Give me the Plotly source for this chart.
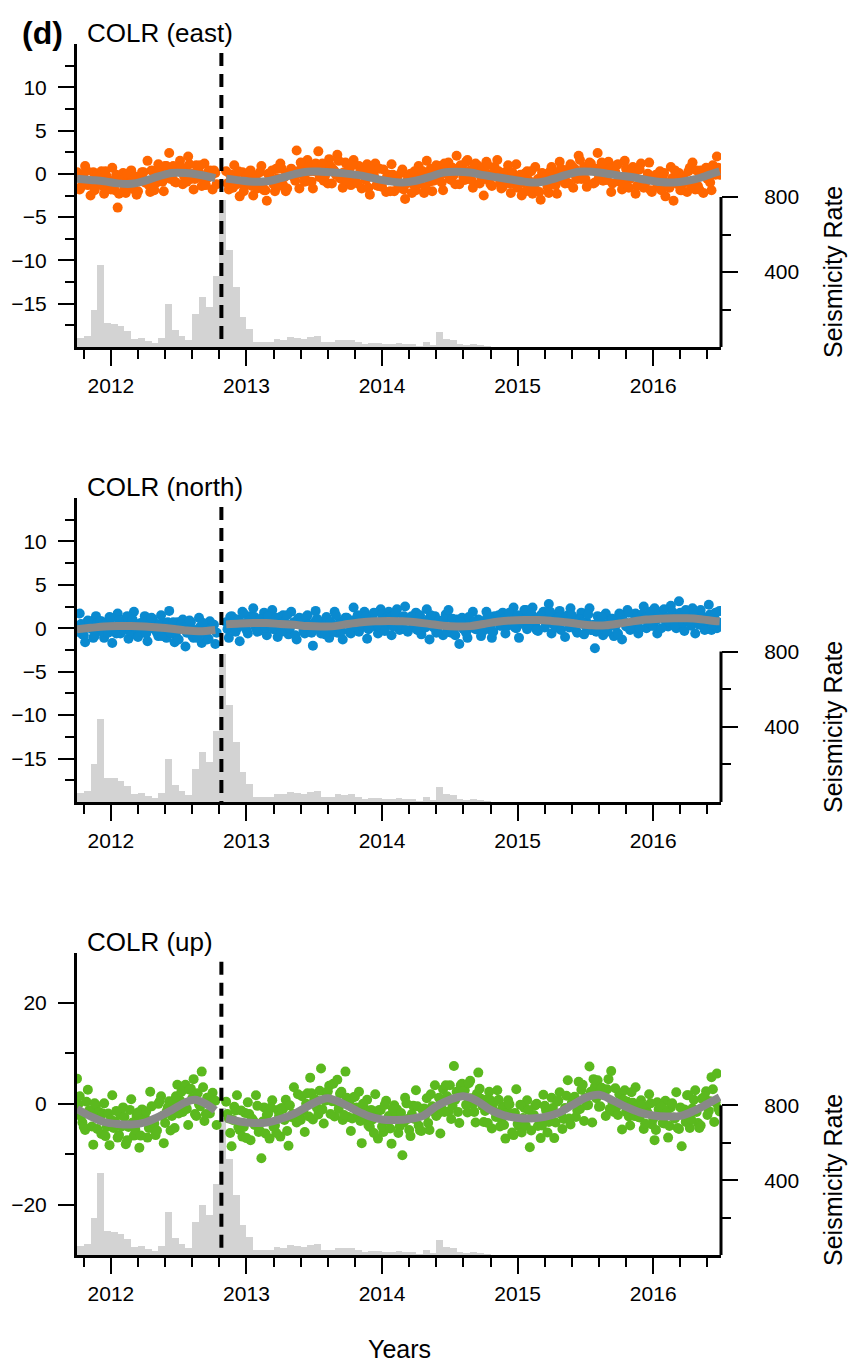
import numpy as np
import plotly.graph_objects as go

# ------------------------------------------------------------------ data
STEP = 0.02            # GPS sampling interval (years) of each dot series
PRE_START = 2011.75    # first epoch before the gap
POST_START = 2012.85   # first epoch after the gap
OFFSET_B = 0.01        # second (interleaved) set of daily solutions
QUAKE_T = 2012.815     # dashed event line

east_pre = [0.2, -1.8, -0.3, 0.9, -1.3, -2.5, 0.2, -0.7, -1.2, 0.3,
            -2.3, -0.3, -1.1, 0.7, -1.9, -3.9, -0.7, 0.1, -2.2, -0.9,
            0.4, -1.8, -2.4, -0.4, 0.2, -1.0, 1.5, -2.1, 0.3, -1.1,
            1.1, -0.1, -2.0, 0.9, 2.4, -0.4, -0.9, 0.7, 1.5, -1.2,
            0.3, 2.0, -0.6, -1.8, 1.0, 0.2, -1.4, 1.2, -0.5, 0.4,
            -1.8, 0.1]
east_pre_b = [-0.4, -1.5, 0.0, 0.4, -1.0, -0.9, -1.9, 0.0, -0.3, -1.4,
              0.3, -1.3, -1.8, -0.8, -0.1, -2.3, -0.7, -1.6, 0.0, -1.1,
              -1.6, -0.3, -2.0, -0.7, 0.2, -0.8, -1.3, 0.4, -1.9, 0.1,
              0.3, -0.9, 0.9, -0.2, -0.6, 0.9, -1.0, 0.3, 0.8, -0.3,
              -0.9, 1.1, 0.0, -0.6, 0.5, 1.0, -0.6, -1.3, 0.3, -0.2,
              0.4, -1.2]
east_post = [0.3, -1.8, -0.1, 1.0, -1.2, -2.6, 0.2, -0.5, -1.2, 0.4,
             -2.5, -0.2, -1.0, 0.9, -1.9, -3.1, -0.3, 0.4, -2.0, -0.5,
             1.2, -1.3, -2.0, 0.1, 0.6, -0.4, 2.7, -1.7, 0.7, -0.9,
             1.6, 0.3, -1.7, 1.2, 2.6, -0.3, -0.8, 0.9, 1.7, -1.1,
             0.3, 2.2, -0.5, -1.6, 1.3, 0.5, -1.3, 1.6, -0.3, 0.9,
             -1.7, 0.4, 1.1, -2.4, -0.2, 1.2, -1.4, -0.9, 0.5, -2.1,
             -0.1, 1.1, -2.0, -0.5, -1.6, 0.5, -2.9, -0.6, 0.0, -1.2,
             -1.9, 0.9, -0.2, -2.2, 1.5, -0.9, -2.0, 0.5, -0.2, 0.9,
             -1.9, 0.6, 1.3, -0.7, -0.1, 2.1, -1.2, 0.9, -0.7, 1.6,
             0.4, -1.6, 1.2, 0.9, -0.3, -2.5, 1.4, -0.1, -1.4, 0.8,
             1.6, -1.1, -1.5, 0.2, 1.0, -2.2, -0.4, 1.1, -1.0, -2.5,
             0.0, 0.3, -1.7, -2.3, 0.8, -0.6, -3.0, 0.0, -0.5, -2.2,
             0.8, -0.9, -2.3, 1.4, -0.5, -1.1, 0.5, 1.1, -1.6, -0.3,
             2.1, -0.6, 0.8, -1.5, 1.3, 0.5, -1.0, 2.4, -0.3, -0.8,
             0.8, 1.4, -2.1, 0.2, 1.0, -0.9, -1.8, 1.5, 0.3, -0.6,
             0.8, -2.3, 0.5, 1.2, -1.6, -0.8, 1.3, -2.1, -0.3, -1.5,
             0.3, -0.2, -2.6, -1.4, 0.8, -3.1, -0.4, 0.1, -1.9, -1.0,
             -2.1, 0.7, 1.3, -1.8, -1.4, 0.4, -2.2, 0.7, -0.1, -1.9,
             0.8, 2.0, -0.1]
east_post_b = [-1.1, -0.1, -1.6, -0.5, 0.3, -1.1, -2.0, -0.3, 0.0, -1.4,
               -0.6, -1.7, 0.2, -1.1, -1.9, 0.0, -0.6, -1.2, 0.6, -1.4,
               0.6, -0.4, -1.7, 0.1, 0.3, -0.8, 0.3, 1.3, -0.2, -0.7,
               0.8, -0.9, 0.3, 1.1, -0.4, 1.2, -0.2, -1.1, 0.9, 0.5,
               -0.1, 1.5, -0.6, 0.2, -0.8, 0.5, 1.0, -0.6, -1.1, 0.3,
               0.3, -0.7, -1.6, 0.5, -0.2, -1.3, 0.6, -1.5, -0.7, -0.2,
               -2.0, -0.1, -0.6, -1.3, 0.1, -1.8, -1.1, -0.3, -2.2, 0.3,
               -0.5, -1.1, 0.3, -1.6, -0.2, 0.6, -0.8, 1.0, -0.4, -1.0,
               1.2, 0.0, -0.6, 0.7, -1.2, 0.5, 1.0, -0.4, 1.4, 0.1,
               -0.7, 0.9, 0.2, -1.1, 0.6, -0.6, 1.0, -1.2, 0.1, -0.3,
               0.3, -1.7, 0.0, -0.4, -1.1, 0.2, -1.2, -1.6, -0.1, -1.0,
               -2.0, -0.7, 0.3, -1.5, -1.0, -2.1, 0.1, -0.4, -1.5, 0.3,
               -0.2, -1.3, 0.2, 0.6, -0.8, -0.1, -1.1, 0.9, 0.6, -0.6,
               1.6, -0.1, -0.6, 0.5, 1.2, -1.1, 0.6, -0.4, 1.3, 0.2,
               -0.7, 0.6, -1.1, 0.2, 1.1, -0.5, -1.0, 0.6, -1.6, 0.3,
               -0.2, -1.4, 0.5, -0.7, -1.1, 0.0, -1.9, -0.6, -0.1, -1.2,
               -1.9, 0.1, -1.0, -1.6, -0.5, 0.4, -1.2, -1.9, -0.3, -0.8,
               0.3, -1.3, -0.8, 0.4, -1.8, 0.1, 0.4, -0.6, -1.0, 1.0,
               -0.1, 0.7]

north_pre = [0.1, 1.7, -0.7, -1.6, 0.9, 0.4, -1.1, 1.4, -0.3, 0.8,
             -1.1, 0.7, 1.3, -1.7, 0.2, 1.7, -0.6, -0.1, 1.1, -1.2,
             0.9, 1.9, -0.8, 0.5, -0.5, 1.4, -1.5, 0.5, 1.0, 0.0,
             -0.9, 1.5, 0.6, -1.1, 2.0, -0.6, -1.6, 0.7, 0.0, 1.0,
             -2.1, 0.1, 0.7, -1.1, -0.6, 1.2, -1.7, 0.2, -1.3, 0.8,
             0.0, -1.8]
north_pre_b = [-0.4, 0.5, -0.8, 0.1, 0.8, -0.1, -0.9, 0.6, 0.8, -0.4,
               0.5, -0.5, 1.2, 0.1, -0.6, 0.9, 0.3, -0.2, 1.4, -0.3,
               1.0, 0.1, -1.0, 0.6, 0.7, -0.6, 0.3, 1.2, -0.1, -0.5,
               0.5, -0.9, 0.0, 0.7, -0.5, 0.7, -0.5, -1.3, 0.5, 0.1,
               -0.5, 0.9, -0.9, -0.2, -1.1, 0.2, 0.6, -0.7, -1.2, 0.0,
               0.4, -0.5]
north_post = [0.7, -1.1, 1.4, 1.1, 0.0, -1.5, 1.9, 0.6, -0.6, 1.4,
              2.3, 0.0, -0.3, 1.1, 1.8, -0.8, 0.8, 2.1, 0.3, -1.0,
              1.3, 1.5, -0.2, -0.7, 1.9, 0.7, -1.3, 1.2, 0.8, -0.6,
              1.5, 0.0, -2.0, 2.0, 0.3, -0.6, 0.8, 1.3, -1.1, 0.0,
              1.9, -0.5, 0.8, -1.3, 1.2, 0.8, -0.6, 2.4, 0.0, -0.4,
              1.4, 1.9, -1.2, 0.9, 1.5, 0.2, -0.6, 2.2, 1.2, 0.5,
              1.9, -0.8, 1.6, 2.2, -0.2, 0.7, 2.5, -0.4, 1.1, 0.1,
              1.8, 1.3, -0.7, 0.3, 2.2, -1.3, 1.0, 1.4, -0.3, 0.5,
              -0.8, 1.6, 2.1, -0.5, -0.2, 1.0, -1.8, 1.2, 0.5, -1.1,
              0.9, 1.9, -0.1, 1.0, -0.9, 0.8, 1.9, -0.1, -1.1, 1.4,
              0.9, 0.3, 1.8, -0.6, 1.3, 0.8, 2.4, 0.0, -1.1, 1.3,
              2.1, -0.1, 1.2, 2.4, 0.3, -0.3, 1.5, 1.9, 0.6, 2.8,
              -0.6, 1.5, 0.1, 2.0, 0.9, -1.0, 1.5, 2.3, 0.2, -0.2,
              1.1, 1.8, -0.7, 0.7, 2.3, -0.2, -2.3, 1.4, 0.8, -0.8,
              1.7, 0.1, 1.1, -0.9, 0.9, 1.7, -1.3, 0.6, 2.1, -0.2,
              0.5, 1.7, -0.6, 1.5, 2.5, 0.0, 1.3, 0.3, 2.3, -0.6,
              1.4, 2.0, 0.9, 0.2, 2.6, 1.7, 0.0, 3.1, 0.6, -0.3,
              1.9, 1.2, 2.3, -0.6, 1.6, 2.1, 0.3, 0.8, 2.7, -0.2,
              1.4, 0.0, 2.0]
north_post_b = [-0.1, 1.3, 0.7, -0.4, 1.0, 0.3, 1.7, -0.2, 0.9, 0.6,
                1.3, -0.4, 1.0, 0.7, 0.1, 1.4, 0.2, -0.1, 1.2, 0.4,
                -0.4, 0.7, 1.5, 0.0, 0.5, -0.8, 1.1, 0.7, -0.3, 1.3,
                0.4, -0.5, 0.7, 1.1, -0.1, 0.1, -0.7, 0.9, 0.7, -0.3,
                1.5, 0.1, -0.3, 0.6, 1.2, -0.4, 0.9, 0.2, 1.5, 0.6,
                0.2, 1.4, -0.1, 1.0, 1.8, 0.7, 0.2, 1.6, -0.3, 1.3,
                1.2, 0.2, 1.7, 0.7, 0.4, 1.4, -0.2, 0.9, 1.4, 0.4,
                -0.2, 1.5, 0.6, 0.1, 1.0, 1.5, 0.1, -0.5, 0.9, 0.5,
                1.0, -0.4, 0.1, 1.1, -0.8, 0.5, 0.7, -0.1, -0.5, 1.3,
                0.1, 0.8, 0.0, 0.9, -0.4, 0.8, 1.5, 0.4, -0.4, 1.1,
                1.5, 0.3, 1.1, 0.2, 1.8, 0.8, 0.1, 1.5, 1.0, 0.5,
                2.1, 0.4, 1.7, 0.9, -0.2, 1.2, 1.4, 0.1, 1.1, 1.9,
                0.5, 0.1, 1.2, -0.2, 0.8, 1.3, 0.1, 1.5, 0.3, -0.5,
                1.0, 0.7, 0.3, 1.6, -0.2, 0.4, -0.4, 0.9, 1.3, -0.1,
                -0.4, 0.8, 1.1, 0.2, -0.6, 1.5, 0.9, 0.2, 1.8, 0.0,
                0.9, 1.3, 0.0, 1.6, 1.2, 0.7, 1.9, 0.3, 0.9, 1.6,
                0.0, 2.2, 1.2, 0.7, 1.9, 0.3, 1.5, 1.8, 0.6, 2.1,
                0.8, 0.3, 2.0, 0.9, 0.4, 1.4, -0.2, 1.2, 1.6, 0.4,
                1.8, 0.7]

up_pre = [5.0, 1.5, -3.7, -5.2, 2.8, -1.9, -8.1, -0.3, -1.6, -6.0,
          0.1, -4.6, -8.2, 1.7, -3.5, -6.7, -2.2, -0.7, -8.0, -4.6,
          0.9, -6.3, -2.4, -8.7, -1.1, -2.5, -6.7, 2.4, -4.9, -6.2,
          0.0, 1.5, -7.8, -1.6, 0.5, -2.4, -4.8, 3.8, 0.7, -1.6,
          3.8, -4.2, 3.0, 4.9, -2.4, -0.1, 6.4, -3.4, 1.2, -1.9,
          2.2, 0.6]
up_pre_b = [-0.1, -2.5, -4.6, 0.4, -1.3, -4.5, 0.1, -5.0, -3.1, -1.9,
            -6.4, -1.9, -3.1, -4.8, -1.4, -6.2, -4.5, -2.6, -7.2, -1.2,
            -3.7, -5.1, -1.7, -6.3, -2.9, -1.5, -4.8, -0.5, -3.9, -5.3,
            0.5, -2.4, -3.8, -0.7, -5.3, 0.3, 1.5, -1.9, 2.4, -0.7,
            -1.0, 2.8, 1.1, -2.0, 2.1, -0.5, 3.3, -2.0, 1.2, 0.2,
            0.6, -4.2]
up_post = [0.4, -2.9, -8.4, -0.6, 1.7, -5.2, -6.5, -1.8, 0.3, -7.2,
           -3.3, 1.7, -5.6, -10.8, -0.7, -2.2, -6.9, 0.7, -4.3, -1.2,
           -6.5, -1.0, 0.8, -8.3, -2.6, 3.3, -3.7, -2.4, 1.5, -5.6,
           2.1, 5.2, -3.1, 0.8, -2.1, 7.0, -3.9, 2.0, 3.6, 0.5,
           -2.5, 4.8, 2.0, -3.2, 6.4, -2.6, -5.4, 1.3, -0.7, 2.4,
           -7.8, -1.0, 0.8, -4.6, -3.1, 1.9, -6.9, -1.2, -5.6, 0.6,
           -2.4, -7.9, -0.3, -1.1, -4.5, -10.2, 1.2, -3.0, -6.4, -0.4,
           2.7, -4.3, -5.4, -0.9, 1.1, -5.2, -0.5, 3.7, -2.0, -5.9,
           2.9, 3.7, -1.5, -3.0, 7.5, 2.4, -3.8, 4.0, 2.7, -1.7,
           4.6, -0.1, -3.7, 6.2, 1.0, -3.6, 0.8, 2.4, -4.9, -1.5,
           2.7, -4.5, -0.6, -6.9, 0.7, -2.0, -6.2, 2.9, -4.4, -5.7,
           -0.8, 0.7, -8.6, -2.4, -0.3, -4.4, -6.8, 1.8, -1.3, -3.6,
           1.2, -6.8, 0.4, 2.3, -5.0, -0.8, 4.7, -4.1, 0.5, -2.6,
           4.4, 2.8, -3.4, -0.3, 7.4, -3.7, 3.4, 4.7, -0.5, 1.8,
           -2.4, 4.9, 6.5, -1.6, -0.6, 1.9, -5.1, 2.7, 0.4, -4.3,
           0.2, 3.3, -2.6, 0.7, -5.0, -1.3, 1.9, -4.1, -7.2, 0.3,
           -2.0, -3.8, 0.6, -6.7, -0.7, -2.7, 2.3, -5.0, -8.4, -1.1,
           1.7, -4.8, -0.9, 2.7, -3.8, -4.3, 1.2, 2.5, -1.4, 5.3,
           -3.6, 6.0, -1.5]
up_post_b = [-2.0, -5.8, -3.2, -1.3, -4.6, -1.3, -4.6, -6.8, -2.0, -2.9,
             -4.2, -0.4, -5.4, -3.5, -5.9, -1.9, -0.7, -4.6, -5.8, -2.4,
             -0.8, -3.2, -5.4, -0.3, -2.0, -2.7, 1.9, -3.2, -1.3, 0.0,
             -2.5, 2.1, 0.9, -0.8, 2.6, -1.1, 0.6, 2.5, -2.0, 4.0,
             0.4, -1.0, 2.4, -2.2, 1.2, 0.5, -2.9, 1.4, -1.9, -3.4,
             0.0, -2.9, -4.3, -1.2, -5.8, -2.4, -1.2, -4.5, -0.2, -3.3,
             -4.9, -1.0, -2.7, -5.8, -1.8, -3.7, 0.1, -5.2, -2.0, -3.0,
             -0.5, -5.3, -1.2, -2.2, -3.8, 1.9, -1.5, -2.4, 1.2, -1.0,
             -1.6, 1.5, 3.7, -0.4, 0.8, -1.6, 3.7, 2.5, -0.2, 4.1,
             1.1, -1.6, 2.0, 3.0, -0.4, -1.4, -3.8, 0.7, 0.0, -2.6,
             0.8, -3.0, -4.2, -1.8, -0.1, -5.7, -1.8, -4.0, -0.2, -2.8,
             -4.3, -1.2, -5.3, -2.2, 0.0, -3.1, -4.3, -0.4, -5.7, -1.2,
             -0.8, -3.7, 0.6, -2.0, -3.0, 1.6, -2.9, 0.2, 1.4, -1.3,
             -1.0, 3.8, 1.2, -0.2, 2.4, 4.9, 1.1, -0.6, 3.2, 2.0,
             2.9, -1.0, 0.2, 3.1, -2.2, 0.1, 0.8, -1.6, -2.5, 2.3,
             -2.4, -0.5, -2.7, -0.3, -3.9, -1.8, 0.1, -3.0, -5.2, -1.1,
             -0.6, -3.9, -1.8, -4.4, 0.1, -2.9, -4.8, -0.7, -2.2, -3.6,
             1.7, -3.1, 0.8, -1.6, -4.8, 1.0, 1.4, -2.2, 0.5, 2.9,
             0.3, -0.9]

# fitted (seasonal) model curves
line_pre_x = [2011.75, 2011.85, 2011.95, 2012.05, 2012.15, 2012.25,
              2012.35, 2012.45, 2012.55, 2012.65, 2012.77]
line_post_x = [2012.85, 2012.95, 2013.05, 2013.15, 2013.25, 2013.35, 2013.45,
               2013.55, 2013.65, 2013.75, 2013.85, 2013.95, 2014.05, 2014.15,
               2014.25, 2014.35, 2014.45, 2014.55, 2014.65, 2014.75, 2014.85,
               2014.95, 2015.05, 2015.15, 2015.25, 2015.35, 2015.45, 2015.55,
               2015.65, 2015.75, 2015.85, 2015.95, 2016.05, 2016.15, 2016.25,
               2016.35, 2016.45, 2016.49]
east_line_pre = [-0.55, -0.7, -0.85, -1.1, -1.15, -0.8, -0.3, 0.1, 0.1, -0.1, -0.5]
east_line_post = [-0.55, -0.75, -0.9, -0.85, -0.5, -0.05, 0.25, 0.25, 0.15, 0.0,
                  -0.2, -0.55, -0.85, -1.0, -0.8, -0.35, 0.15, 0.25, 0.15, -0.15,
                  -0.4, -0.65, -0.9, -1.0, -0.65, -0.15, 0.25, 0.25, 0.05, -0.2,
                  -0.4, -0.7, -0.95, -1.0, -0.8, -0.45, 0.1, 0.3]
north_line_pre = [-0.1, 0.05, 0.2, 0.25, 0.25, 0.2, 0.1, -0.05, -0.25, -0.35, -0.2]
north_line_post = [0.45, 0.55, 0.6, 0.6, 0.5, 0.4, 0.25, 0.2, 0.25, 0.5,
                   0.7, 0.8, 0.85, 0.8, 0.7, 0.5, 0.3, 0.2, 0.25, 0.5,
                   0.75, 0.9, 0.95, 0.95, 0.85, 0.7, 0.5, 0.35, 0.35, 0.55,
                   0.8, 1.0, 1.1, 1.15, 1.15, 1.05, 0.85, 0.8]
up_line_pre_x = [2011.75, 2011.85, 2011.95, 2012.05, 2012.15, 2012.25,
                 2012.35, 2012.45, 2012.55, 2012.62, 2012.70, 2012.77]
up_line_pre = [-1.0, -2.5, -3.6, -4.0, -4.1, -3.7, -2.6, -1.2, 0.3, 0.8, 0.0, -1.3]
up_line_post_x = [2012.85, 2012.95, 2013.05, 2013.15, 2013.25, 2013.35, 2013.45,
                  2013.55, 2013.6, 2013.7, 2013.8, 2013.9, 2014.0, 2014.1, 2014.2,
                  2014.3, 2014.4, 2014.5, 2014.6, 2014.7, 2014.8, 2014.9, 2015.0,
                  2015.1, 2015.2, 2015.3, 2015.4, 2015.5, 2015.6, 2015.7, 2015.8,
                  2015.9, 2016.0, 2016.1, 2016.2, 2016.3, 2016.4, 2016.49]
up_line_post = [-2.9, -3.5, -3.8, -3.7, -3.0, -2.0, -0.5, 0.8, 1.1, 0.2,
                -1.2, -2.4, -3.1, -3.2, -3.0, -2.4, -0.5, 0.8, 1.5, 0.6,
                -1.2, -2.3, -2.8, -2.9, -2.6, -1.8, -0.3, 1.2, 1.8, 0.7,
                -0.6, -1.7, -2.3, -2.5, -2.4, -1.4, 0.0, 1.3]

# seismicity rate histogram (bins of 0.05 yr starting 2011.75)
BIN_START = 2011.75
BIN_W = 0.05
seis_rate = [49, 61, 200, 439, 129, 125, 114, 84, 44, 49,
             31, 19, 49, 231, 93, 61, 35, 178, 267, 214,
             380, 785, 515, 320, 159, 97, 26, 29, 28, 45,
             40, 55, 49, 44, 52, 61, 28, 28, 40, 37,
             40, 26, 14, 19, 19, 14, 14, 22, 18, 18,
             8, 25, 12, 80, 44, 35, 18, 13, 18, 10, 8]

titles = ["COLR (east)", "COLR (north)", "COLR (up)"]
left_ticks = [[-15, -10, -5, 0, 5, 10], [-15, -10, -5, 0, 5, 10], [-20, 0, 20]]
left_minor = [[-17.5, -12.5, -7.5, -2.5, 2.5, 7.5, 12.5],
              [-17.5, -12.5, -7.5, -2.5, 2.5, 7.5, 12.5], [-10, 10]]
rate_ticks = [400, 800]
rate_minor = [200, 600]

# ------------------------------------------------------------------ figure
W, H = 853, 1365
FONT = "Liberation Sans, Arial, Helvetica, sans-serif"
colors = ["#FF6600", "#0A8AD0", "#5BB91E"]
LINE_GRAY = "#888888"
BAR_GRAY = "#D3D3D3"

pre_vals = [(east_pre, east_pre_b), (north_pre, north_pre_b), (up_pre, up_pre_b)]
post_vals = [(east_post, east_post_b), (north_post, north_post_b), (up_post, up_post_b)]
lines = [(line_pre_x, east_line_pre, line_post_x, east_line_post),
         (line_pre_x, north_line_pre, line_post_x, north_line_post),
         (up_line_pre_x, up_line_pre, up_line_post_x, up_line_post)]
yranges = [[-20, 15], [-20, 15], [-30, 30]]
panel_px = [(44, 347), (498, 802), (952.7, 1255)]   # top / bottom (px)
X_DOM = [77 / W, 721 / W]
RATE_MAX = 1616

bin_centers = BIN_START + BIN_W * (np.arange(len(seis_rate)) + 0.5)

fig = go.Figure()
layout = dict(width=W, height=H, margin=dict(l=0, r=0, t=0, b=0),
              paper_bgcolor="white", plot_bgcolor="white", showlegend=False,
              bargap=0, hovermode=False, font=dict(family=FONT, color="black"))
shapes = []
annotations = []
tickfont = dict(family=FONT, size=21, color="black")

for i in range(3):
    xn = "x" if i == 0 else f"x{i + 1}"
    b = 2 * i + 1
    o = 2 * i + 2
    bn = "y" if b == 1 else f"y{b}"
    on = f"y{o}"
    top, bot = panel_px[i]
    dom = [1 - bot / H, 1 - top / H]

    layout["xaxis" if i == 0 else f"xaxis{i + 1}"] = dict(
        domain=X_DOM, anchor=bn, range=[2011.75, 2016.5],
        showline=True, linewidth=3, linecolor="black", showgrid=False,
        zeroline=False, ticks="outside", ticklen=16, tickwidth=2,
        tickcolor="black", tick0=2012, dtick=1, tickfont=tickfont,
        ticklabelstandoff=2,
        minor=dict(ticks="outside", ticklen=9, tickwidth=2, tickcolor="black",
                   tick0=2011.8, dtick=0.2, showgrid=False))
    layout["yaxis" if b == 1 else f"yaxis{b}"] = dict(
        domain=dom, anchor=xn, side="right", range=[0, RATE_MAX],
        showline=False, showgrid=False, zeroline=False,
        tickvals=rate_ticks, ticks="outside", ticklen=16, tickwidth=2,
        tickcolor="black", tickfont=tickfont, ticklabelstandoff=22,
        minor=dict(tickvals=rate_minor, ticks="outside", ticklen=9,
                   tickwidth=2, tickcolor="black", showgrid=False))
    layout[f"yaxis{o}"] = dict(
        overlaying=bn, anchor=xn, side="left", range=yranges[i],
        showline=True, linewidth=3, linecolor="black", showgrid=False,
        zeroline=False, tickvals=left_ticks[i], ticks="outside", ticklen=16,
        tickwidth=2, tickcolor="black", tickfont=tickfont,
        ticklabelstandoff=7,
        minor=dict(tickvals=left_minor[i], ticks="outside", ticklen=9,
                   tickwidth=2, tickcolor="black", showgrid=False))

    # histogram on the seismicity axis
    fig.add_trace(go.Bar(x=bin_centers, y=seis_rate, width=BIN_W,
                         marker=dict(color=BAR_GRAY, line=dict(width=0)),
                         xaxis=xn, yaxis=bn))
    # GPS dots (two interleaved sets per segment)
    for start, pair in ((PRE_START, pre_vals[i]), (POST_START, post_vals[i])):
        for k, vals in enumerate(pair):
            tt = start + k * OFFSET_B + STEP * np.arange(len(vals))
            fig.add_trace(go.Scatter(x=tt, y=vals, mode="markers",
                                     marker=dict(size=10, color=colors[i],
                                                 line=dict(width=0)),
                                     xaxis=xn, yaxis=on))
    lpx, lp, lqx, lq = lines[i]
    for xx, yy in ((lpx, lp), (lqx, lq)):
        fig.add_trace(go.Scatter(x=xx, y=yy, mode="lines",
                                 line=dict(color=LINE_GRAY, width=8,
                                           shape="spline", smoothing=1.0),
                                 xaxis=xn, yaxis=on))

    # right spine only covering 0..800
    shapes.append(dict(type="line", xref=f"{xn} domain", x0=1, x1=1,
                       yref=bn, y0=0, y1=800,
                       line=dict(color="black", width=3), layer="above"))
    # dashed event line
    shapes.append(dict(type="line", xref=xn, x0=QUAKE_T, x1=QUAKE_T,
                       yref=f"{bn} domain", y0=0.97, y1=0,
                       line=dict(color="black", width=4, dash="13px,8px"),
                       layer="above"))

    annotations.append(dict(text=titles[i], xref="paper", yref="paper",
                            x=85 / W, y=1 - (top - 11) / H, xanchor="left",
                            yanchor="middle", showarrow=False,
                            font=dict(family=FONT, size=26, color="black")))
    rate_mid = bot - 75
    annotations.append(dict(text="Seismicity Rate", xref="paper", yref="paper",
                            x=833 / W, y=1 - rate_mid / H, xanchor="center",
                            yanchor="middle", textangle=-90, showarrow=False,
                            font=dict(family=FONT, size=25, color="black")))

annotations.append(dict(text="<b>(d)</b>", xref="paper", yref="paper",
                        x=20 / W, y=1 - 33 / H, xanchor="left",
                        yanchor="middle", showarrow=False,
                        font=dict(family=FONT, size=32, color="black")))
annotations.append(dict(text="Years", xref="paper", yref="paper",
                        x=399 / W, y=1 - 1349 / H, xanchor="center",
                        yanchor="middle", showarrow=False,
                        font=dict(family=FONT, size=25, color="black")))

layout["shapes"] = shapes
layout["annotations"] = annotations
fig.update_layout(**layout)
fig.write_html("out.html",
               config={"displayModeBar": False, "staticPlot": True},
               post_script="document.body.style.margin='0px';"
                           "document.body.style.overflow='hidden';")
